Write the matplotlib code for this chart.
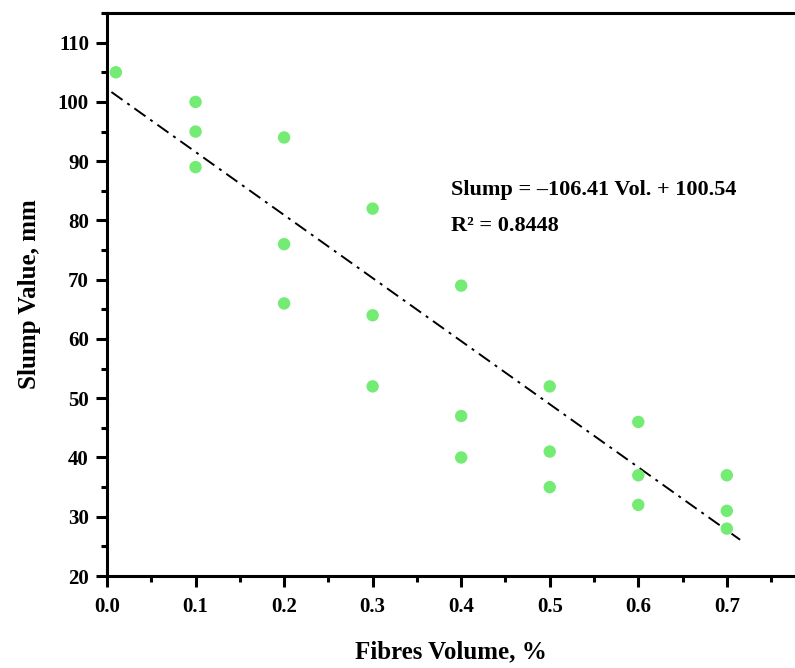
import numpy as np
import matplotlib.pyplot as plt
from matplotlib.ticker import MultipleLocator

# fibres volume (%) and measured slump (mm)
fibres = [0.01, 0.1, 0.1, 0.1, 0.2, 0.2, 0.2, 0.3, 0.3, 0.3, 0.4, 0.4, 0.4,
          0.5, 0.5, 0.5, 0.6, 0.6, 0.6, 0.7, 0.7, 0.7]
slump = [105, 100, 95, 89, 94, 76, 66, 82, 64, 52, 69, 47, 40,
         52, 41, 35, 46, 37, 32, 37, 31, 28]

# trend line as drawn in the figure
slope = -106.41
intercept = 102.2
line_x = [0.005, 0.715]

x_ticks = [0.0, 0.1, 0.2, 0.3, 0.4, 0.5, 0.6, 0.7]
y_ticks = [20, 30, 40, 50, 60, 70, 80, 90, 100, 110]

eq_text = "Slump = \u2013106.41 Vol. + 100.54"
r2_text = "R\u00b2 = 0.8448"

plt.rcParams["font.family"] = ["Liberation Serif", "DejaVu Serif"]
plt.rcParams["font.weight"] = "bold"

fig = plt.figure(figsize=(7.95, 6.68), dpi=100)
ax = fig.add_axes([0.1346, 0.1377, 0.8654, 0.8428])

ax.scatter(fibres, slump, s=80, color="#74EC74", edgecolors="none", zorder=3)

lx = np.array(line_x)
ax.plot(lx, slope * lx + intercept, color="black", lw=1.4,
        dashes=(7, 3, 1.5, 3), zorder=2)

ax.text(0.388, 84.3, eq_text, fontsize=16, fontweight="bold")
ax.text(0.388, 78.2, r2_text, fontsize=16, fontweight="bold")

ax.set_xlim(0, 0.777)
ax.set_ylim(20, 115)
ax.set_xticks(x_ticks)
ax.set_xticklabels([f"{v:.1f}" for v in x_ticks])
ax.set_yticks(y_ticks)
ax.xaxis.set_minor_locator(MultipleLocator(0.05))
ax.yaxis.set_minor_locator(MultipleLocator(5))

for side in ["left", "bottom", "top"]:
    ax.spines[side].set_linewidth(2.2)
ax.spines["right"].set_visible(False)

ax.tick_params(which="major", direction="out", length=8, width=2.2,
               labelsize=15)
ax.tick_params(axis="y", which="major", pad=5)
ax.tick_params(axis="x", which="major", pad=7)
ax.tick_params(which="minor", direction="out", length=4.5, width=2.2)

ax.set_xlabel("Fibres Volume, %", fontsize=18, fontweight="bold", labelpad=17)
ax.set_ylabel("Slump Value, mm", fontsize=18, fontweight="bold", labelpad=12)

plt.savefig("out.png", dpi=100)
